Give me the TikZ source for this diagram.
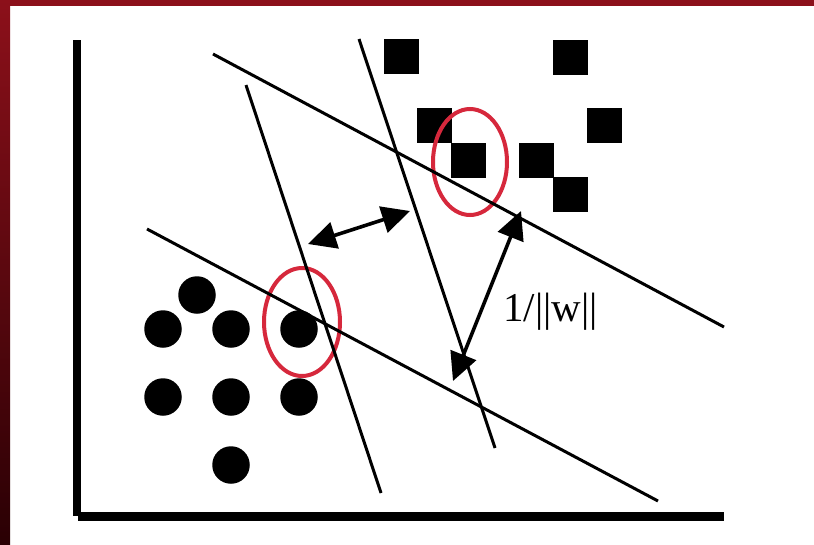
\documentclass[tikz,border=0pt]{standalone}
\usepackage{fontspec}
\setmainfont{Liberation Serif}
\usetikzlibrary{arrows.meta,shapes.geometric}
\definecolor{frame}{RGB}{140,16,26}
\definecolor{framedark}{RGB}{42,0,4}
\definecolor{ring}{RGB}{214,40,60}
\tikzset{
  sv/.style={rectangle,fill=black,minimum size=35pt,inner sep=0pt,outer sep=0pt},
  pt/.style={circle,fill=black,minimum size=37.5pt,inner sep=0pt},
  ring/.style={ellipse,draw=ring,line width=4pt,inner sep=0pt},
  boundary/.style={line width=3pt},
  gap/.style={line width=3.6pt,{Triangle[length=28pt,width=27pt]}-{Triangle[length=28pt,width=27pt]}}
}
\begin{document}
\begin{tikzpicture}[x=1pt,y=-1pt]
  \useasboundingbox (0,0) rectangle (814,544);
  \fill[white] (0,0) rectangle (814,544);
  % slide frame
  \fill[frame] (0,0) rectangle (814,6);
  \shade[top color=frame,bottom color=framedark] (0,0) rectangle (10,544);
  % axes
  \fill[black] (73,40) rectangle (81,516);
  \fill[black] (78,512) rectangle (724,521);
  % class +1
  \node[sv] (s1) at (401,56) {};
  \node[sv] (s2) at (570,57) {};
  \node[sv] (s3) at (434,125) {};
  \node[sv] (s4) at (604,125) {};
  \node[sv] (s5) at (468,160) {};
  \node[sv] (s6) at (536,160) {};
  \node[sv] (s7) at (570,194) {};
  % class -1
  \node[pt] (c1) at (197,295) {};
  \node[pt] (c2) at (163,329) {};
  \node[pt] (c3) at (231,329) {};
  \node[pt] (c4) at (299,329) {};
  \node[pt] (c5) at (163,397) {};
  \node[pt] (c6) at (231,397) {};
  \node[pt] (c7) at (299,397) {};
  \node[pt] (c8) at (231,465) {};
  % support vectors
  \node[ring,minimum width=74pt,minimum height=106pt] (e1) at (470,162) {};
  \node[ring,minimum width=76pt,minimum height=108pt] (e2) at (302,322) {};
  % hyperplanes
  \coordinate (ua) at (213,54);  \coordinate (ub) at (724,327);
  \coordinate (la) at (147,229); \coordinate (lb) at (658,501);
  \coordinate (pa) at (246,85);  \coordinate (pb) at (381,493);
  \coordinate (qa) at (359,39);  \coordinate (qb) at (495,448);
  \draw[boundary] (ua) -- (ub);
  \draw[boundary] (la) -- (lb);
  \draw[boundary] (pa) -- (pb);
  \draw[boundary] (qa) -- (qb);
  % margins
  \coordinate (m1) at (308,244); \coordinate (m2) at (410,211);
  \coordinate (m3) at (521,211); \coordinate (m4) at (453,381);
  \draw[gap] (m1) -- (m2);
  \draw[gap] (m3) -- (m4);
  \node[anchor=base west,inner sep=0pt,font=\fontsize{41}{41}\selectfont] (lbl) at (503,321) {1/||w||};
\end{tikzpicture}
\end{document}
